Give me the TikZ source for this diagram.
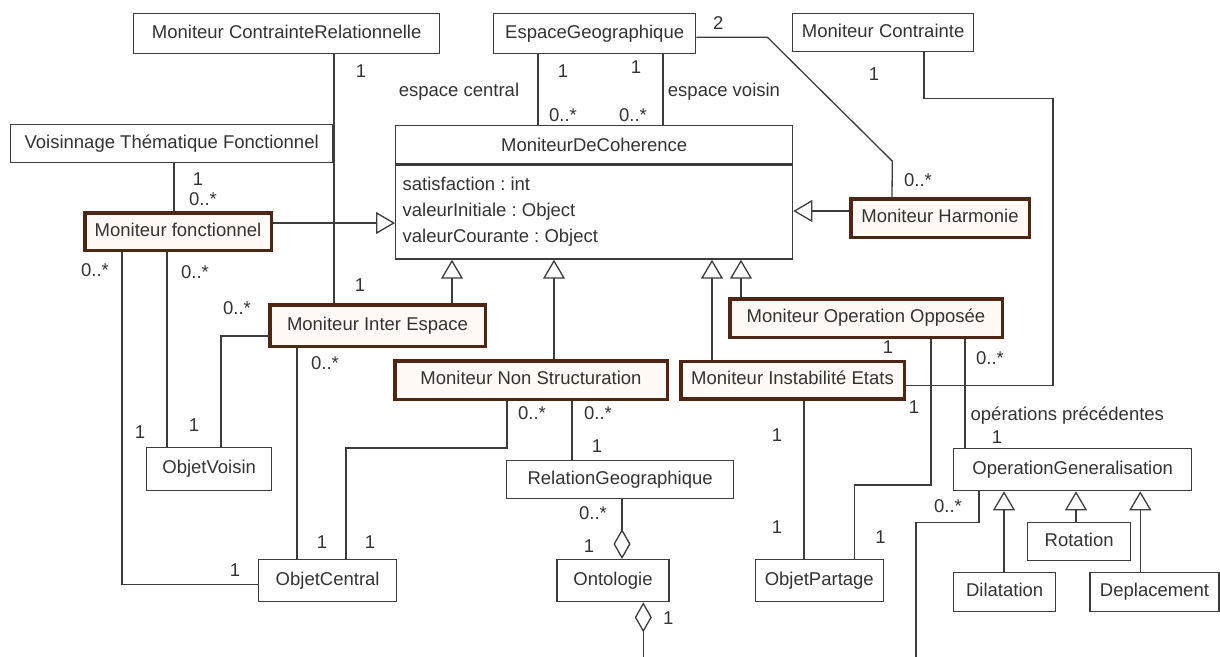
\documentclass[tikz,border=0pt]{standalone}
\usepackage{fontspec}
\setmainfont{Liberation Sans}
\usepackage{tikz}
\usetikzlibrary{arrows.meta, positioning, shapes}
\frenchspacing
\definecolor{brun}{RGB}{78,38,22}
\definecolor{creme}{RGB}{255,250,245}
\definecolor{trait}{RGB}{60,60,60}
\tikzstyle{classe} = [rectangle, draw=trait, line width=1.3pt, fill=white, text=black!80, inner sep=0pt, text centered, text height=13.5pt, text depth=4pt, font=\fontsize{18.5}{22}\selectfont]
\tikzstyle{moniteur} = [classe, draw=brun, line width=3.5pt, fill=creme]
\tikzstyle{lien} = [draw=trait, line width=1.3pt]
\tikzstyle{herit} = [lien, -{Triangle[open, length=19pt, width=22pt]}]
\tikzstyle{agreg} = [lien, -{Diamond[open, length=30pt, width=17pt]}]
\tikzstyle{mult} = [text=black!80, inner sep=0pt, font=\fontsize{18.5}{22}\selectfont]

\begin{document}
\begin{tikzpicture}[x=1pt, y=-1pt]
    \useasboundingbox (0,0) rectangle (1220,656);

    % Classes du haut
    \node (mcr) [classe, minimum width=306, minimum height=40, anchor=north west] at (133,13) {Moniteur ContrainteRelationnelle};
    \node (espace) [classe, minimum width=202, minimum height=40, anchor=north west] at (493,13) {EspaceGeographique};
    \node (mcontr) [classe, minimum width=181, minimum height=38, anchor=north west] at (792,13) {Moniteur Contrainte};
    \node (vtf) [classe, minimum width=322, minimum height=38, anchor=north west] at (10,124) {Voisinnage Thématique Fonctionnel};

    % Classe centrale
    \node (coh) [classe, text height={}, text depth={}, rectangle split, rectangle split parts=2, rectangle split part align={center,left}, align=left, minimum width=397, minimum height=136, inner xsep=7, inner ysep=12, anchor=north west, font=\fontsize{18.5}{26}\selectfont] at (395,125)
        {MoniteurDeCoherence \nodepart{two} satisfaction : int\\valeurInitiale : Object\\valeurCourante : Object};
    \draw [trait, line width=2.5] (coh.text split west) -- (coh.text split east);

    % Moniteurs
    \node (fonc) [moniteur, minimum width=186.5, minimum height=37.5, anchor=north west] at (83,211) {Moniteur fonctionnel};
    \node (harm) [moniteur, minimum width=178.5, minimum height=38.5, anchor=north west] at (849,197) {Moniteur Harmonie};
    \node (inter) [moniteur, minimum width=215.5, minimum height=41.5, anchor=north west] at (268,303) {Moniteur Inter Espace};
    \node (opopp) [moniteur, minimum width=272.5, minimum height=38.5, anchor=north west] at (728,297) {Moniteur Operation Opposée};
    \node (nonstr) [moniteur, minimum width=272.5, minimum height=38.5, anchor=north west] at (393,359) {Moniteur Non Structuration};
    \node (instab) [moniteur, minimum width=223.5, minimum height=37.5, right=10pt of nonstr] {Moniteur Instabilité Etats};

    % Objets
    \node (objvois) [classe, minimum width=125, minimum height=43, anchor=north west] at (146,447) {ObjetVoisin};
    \node (objcent) [classe, minimum width=138, minimum height=42, anchor=north west] at (258,559) {ObjetCentral};
    \node (onto) [classe, minimum width=112, minimum height=42, right=159pt of objcent] {Ontologie};
    \node (objpart) [classe, minimum width=128, minimum height=42, right=85pt of onto] {ObjetPartage};
    \node (relgeo) [classe, minimum width=227, minimum height=38, anchor=north west] at (506,460) {RelationGeographique};

    % Operations
    \node (opgen) [classe, minimum width=238, minimum height=42, anchor=north west] at (953,448) {OperationGeneralisation};
    \node (rot) [classe, minimum width=103, minimum height=38, anchor=north west] at (1027,522) {Rotation};
    \node (dil) [classe, minimum width=102, minimum height=39, anchor=north west] at (953,572) {Dilatation};
    \node (depl) [classe, minimum width=129, minimum height=39, right=33pt of dil] {Deplacement};

    % Heritage
    \draw [herit] ([yshift=8.5]fonc.east) -- ([yshift=8.5]fonc.east -| coh.west);
    \draw [herit] ([yshift=7]harm.west) -- ([yshift=7]harm.west -| coh.east);
    \draw [herit] ([xshift=184]inter.north west) -- ([xshift=184]inter.north west |- coh.south);
    \draw [herit] ([xshift=161]nonstr.north west) -- ([xshift=161]nonstr.north west |- coh.south);
    \draw [herit] ([xshift=33]instab.north west) -- ([xshift=33]instab.north west |- coh.south);
    \draw [herit] ([xshift=13]opopp.north west) -- ([xshift=13]opopp.north west |- coh.south);
    \draw [herit] ([xshift=51]dil.north west) -- ([xshift=51]dil.north west |- opgen.south);
    \draw [herit] ([xshift=49]rot.north west) -- ([xshift=49]rot.north west |- opgen.south);
    \draw [herit] ([xshift=51]depl.north west) -- ([xshift=51]depl.north west |- opgen.south);

    % Associations
    \draw [lien] ([xshift=201]mcr.south west) -- node[mult, at start, shift={(27,17)}] {1} node[mult, at end, shift={(26,-18)}] {1} ([xshift=201]mcr.south west |- inter.north);
    \draw [lien] ([xshift=164]vtf.south west) -- node[mult, at start, shift={(24,16)}] {1} node[mult, at end, shift={(29,-12)}] {0..*} ([xshift=164]vtf.south west |- fonc.north);
    \draw [lien] ([xshift=45]espace.south west) -- node[mult, at start, shift={(25,17)}] {1} node[mult, at start, shift={(-79,37)}] {espace central} node[mult, at end, shift={(25,-10)}] {0..*} ([xshift=45]espace.south west |- coh.north);
    \draw [lien] ([xshift=170]espace.south west) -- node[mult, at start, shift={(-27,13)}] {1} node[mult, at start, shift={(61,37)}] {espace voisin} node[mult, at end, shift={(-30,-10)}] {0..*} ([xshift=170]espace.south west |- coh.north);
    \draw [lien] ([yshift=-3.5]espace.east) -- node[mult, at start, shift={(22,-14)}] {2} ++(71,0) -- ++(125,124) -- node[mult, at end, shift={(26,-17)}] {0..*} ([xshift=43]harm.north west);
    \draw [lien] ([xshift=39]fonc.south west) |- node[mult, at start, shift={(-27,18)}] {0..*} node[mult, at end, shift={(-23,-14)}] {1} ([yshift=-3.5]objcent.west);
    \draw [lien] ([xshift=84]fonc.south west) -- node[mult, at start, shift={(28,20)}] {0..*} node[mult, at end, shift={(-27,-15)}] {1} ([xshift=84]fonc.south west |- objvois.north);
    \draw [lien] ([yshift=-10.5]inter.west) -| node[mult, at start, shift={(-31,-28)}] {0..*} node[mult, at end, shift={(-27,-22)}] {1} ([xshift=75]objvois.north west);
    \draw [lien] ([xshift=29]inter.south west) -- node[mult, at start, shift={(28,15)}] {0..*} node[mult, at end, shift={(25,-17)}] {1} ([xshift=29]inter.south west |- objcent.north);
    \draw [lien] ([xshift=114]nonstr.south west) -- node[mult, at start, shift={(25,12)}] {0..*} ++(0,47) -| node[mult, at end, shift={(24,-17)}] {1} ([xshift=88]objcent.north west);
    \draw [lien] ([xshift=179]nonstr.south west) -- node[mult, at start, shift={(26,12)}] {0..*} node[mult, at end, shift={(25,-14)}] {1} ([xshift=179]nonstr.south west |- relgeo.north);
    \draw [agreg] ([xshift=116]relgeo.south west) -- node[mult, at start, shift={(-29,14)}] {0..*} node[mult, at end, shift={(-33,-13)}] {1} ([xshift=116]relgeo.south west |- onto.north);
    \draw [agreg] ([xshift=87, yshift=-56]onto.south west) -- node[mult, at end, shift={(25,16)}] {1} ([xshift=87]onto.south west);
    \draw [lien] ([xshift=125]instab.south west) -- node[mult, at start, shift={(-27,35)}] {1} node[mult, at end, shift={(-27,-32)}] {1} ([xshift=125]instab.south west |- objpart.north);
    \draw [lien] ([xshift=203]opopp.south west) -- node[mult, at start, shift={(-43,8)}] {1} ++(0,146) -| node[mult, at end, shift={(26,-22)}] {1} ([xshift=100]objpart.north west);
    \draw [lien] ([yshift=-5.5]instab.east) -| node[mult, at start, shift={(8,22)}] {1} ++(147,-287) -| node[mult, at end, shift={(-50,22)}] {1} ([xshift=132]mcontr.south west);
    \draw [lien] ([xshift=237]opopp.south west) -- node[mult, at start, shift={(25,19)}] {0..*} node[mult, at end, anchor=west, shift={(5,-32)}] {opérations précédentes} node[mult, at end, shift={(32,-11)}] {1} ([xshift=237]opopp.south west |- opgen.north);
    \draw [lien] ([xshift=26]opgen.south west) -- node[mult, at start, shift={(-31,15)}] {0..*} ++(0,31) -| ++(-63,135);
\end{tikzpicture}
\end{document}
